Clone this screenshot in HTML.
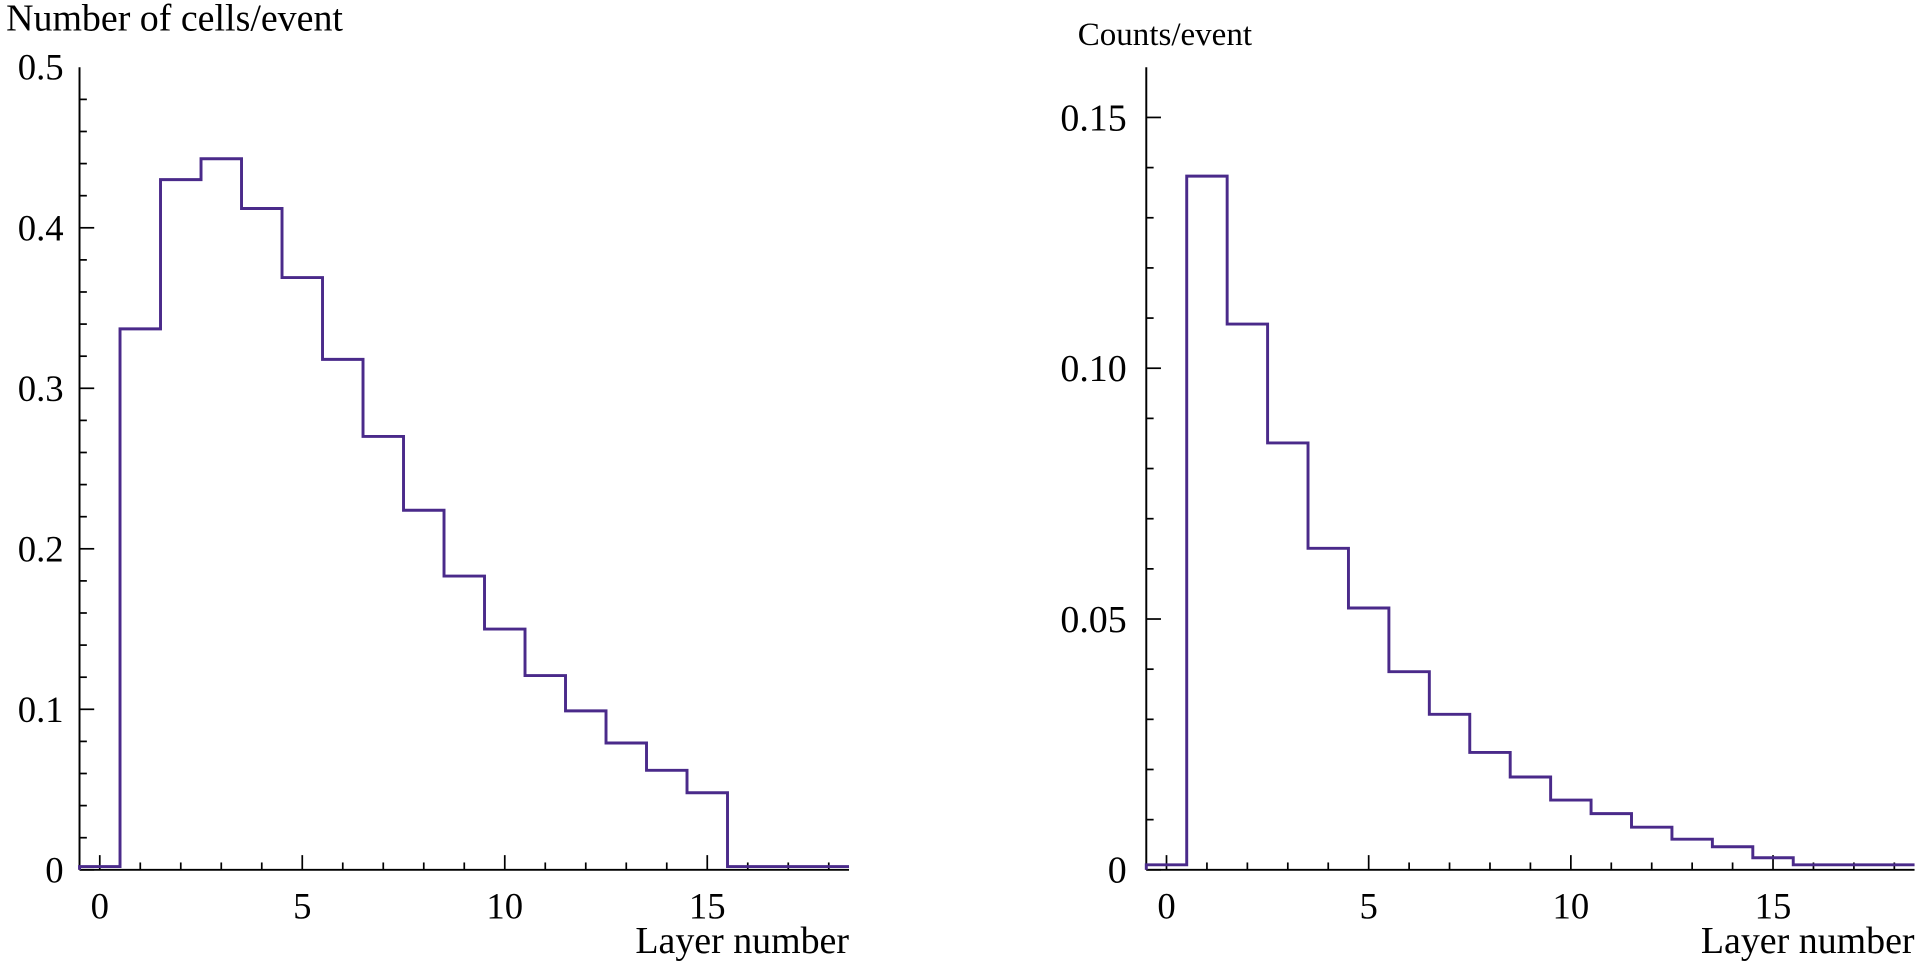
<!DOCTYPE html>
<html><head><meta charset="utf-8"><style>
html,body{margin:0;padding:0;background:#fff;}
svg{display:block;}
text{font-family:"Liberation Serif",serif;fill:#000;}
</style></head><body>
<svg id="c" width="1917" height="964" viewBox="0 0 1567 788" xmlns="http://www.w3.org/2000/svg"></svg>
<script>
const layers = [0,1,2,3,4,5,6,7,8,9,10,11,12,13,14,15,16,17,18];
const cellsPerEvent = [0.002,0.337,0.430,0.443,0.412,0.369,0.318,0.270,0.224,0.183,0.150,0.121,0.099,0.079,0.062,0.048,0.002,0.002,0.002];
const countsPerEvent = [0.001,0.1383,0.1088,0.0851,0.0641,0.0522,0.0395,0.031,0.0234,0.0185,0.0139,0.0112,0.0085,0.0061,0.0046,0.0024,0.001,0.001,0.001];
const leftYTicks = ["0","0.1","0.2","0.3","0.4","0.5"];
const rightYTicks = ["0","0.05","0.10","0.15"];
const xTicks = ["0","5","10","15"];

const NS="http://www.w3.org/2000/svg";
const svg=document.getElementById('c');
function mk(tag,attrs,parent){const e=document.createElementNS(NS,tag);for(const k in attrs)e.setAttribute(k,attrs[k]);(parent||svg).appendChild(e);return e;}

function panel(cfg){
  const g=mk('g',{});
  
  
  const xs=v=>cfg.x0+(v-(-0.5))*(cfg.x1-cfg.x0)/19;
  const ys=v=>cfg.y0-v*(cfg.y0-cfg.yRefPx)/cfg.yRef;
  const ya=mk('line',{x1:cfg.x0,y1:cfg.y0,x2:cfg.x0,y2:55,stroke:'#000','stroke-width':1.6},g);
  
  const xa=mk('line',{x1:cfg.x0,y1:cfg.y0,x2:cfg.x1,y2:cfg.y0,stroke:'#000','stroke-width':1.6},g);
  
  for(let i=0;;i++){const v=i*cfg.yMinor;const y=ys(v);if(y<58)break;
    const major=i%5===0;
    mk('line',{x1:cfg.x0,y1:y,x2:cfg.x0+(major?12:6),y2:y,stroke:'#000','stroke-width':1.4},g);}
  cfg.yLabels.forEach((t,i)=>{const y=ys(i*cfg.yMajor);
    const tx=mk('text',{x:cfg.x0-cfg.lblOff,y:y+cfg.tf*0.34,'font-size':cfg.tf,'text-anchor':'end'},g);tx.textContent=t;
    });
  for(let v=0;v<=18;v++){const x=xs(v);const major=v%5===0;
    mk('line',{x1:x,y1:cfg.y0,x2:x,y2:cfg.y0-(major?12:6),stroke:'#000','stroke-width':1.4},g);}
  xTicks.forEach((t,i)=>{const tx=mk('text',{x:xs(i*5),y:751,'font-size':30,'text-anchor':'middle'},g);tx.textContent=t;
    });
  let d='M'+xs(-0.5)+','+ys(0);
  layers.forEach((L,i)=>{const y=ys(cfg.data[i]);d+=' L'+xs(L-0.5)+','+y+' L'+xs(L+0.5)+','+y;});
  const p=mk('path',{d:d,fill:'none',stroke:'#4a2a8a','stroke-width':2.4},g);
  
  const yt=mk('text',{x:cfg.ytX,y:cfg.ytY,'font-size':cfg.ytf},g);yt.textContent=cfg.yTitle;
  
  const xt=mk('text',{x:cfg.x1,y:779,'font-size':31,'text-anchor':'end'},g);xt.textContent='Layer number';
  
}
panel({name:'left-panel',x0:65,x1:694,y0:711,yRef:0.5,yRefPx:55,yMinor:0.02,yMajor:0.1,yLabels:leftYTicks,data:cellsPerEvent,yTitle:'Number of cells/event',ytX:5,ytY:25,ytf:31,tf:30,lblOff:13});
panel({name:'right-panel',x0:937,x1:1565,y0:711,yRef:0.15,yRefPx:96,yMinor:0.01,yMajor:0.05,yLabels:rightYTicks,data:countsPerEvent,yTitle:'Counts/event',ytX:881,ytY:37,ytf:27,tf:31,lblOff:16});
</script>
</body></html>
